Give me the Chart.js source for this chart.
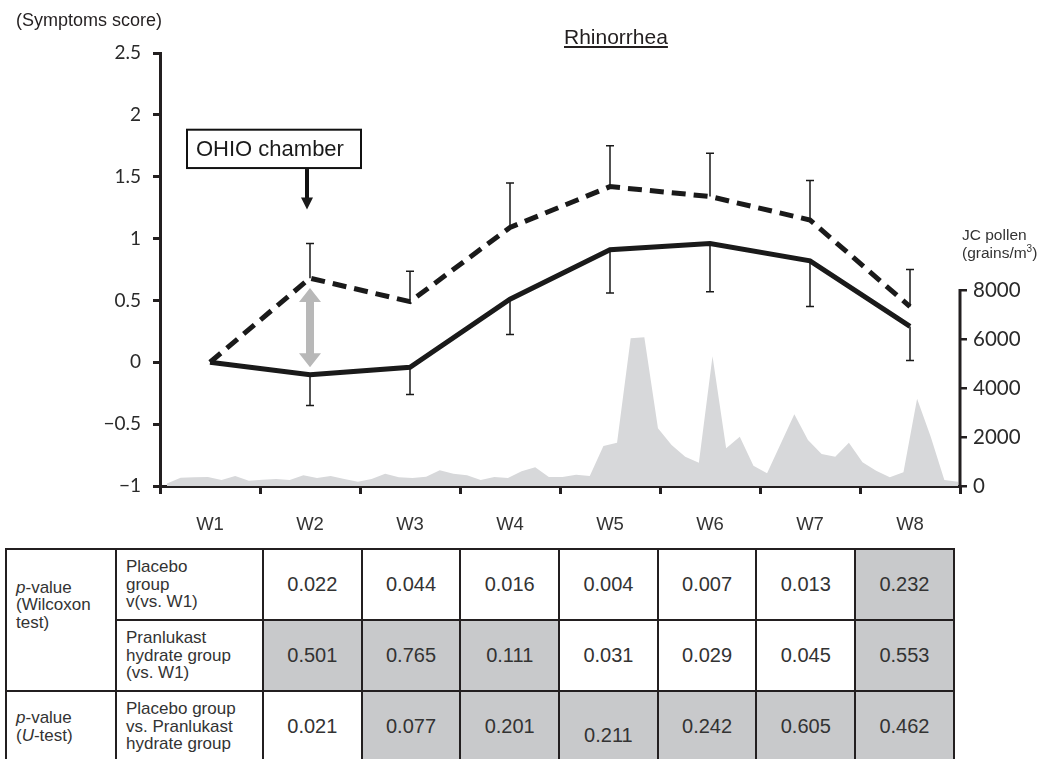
<!DOCTYPE html>
<html>
<head>
<meta charset="utf-8">
<script src="https://cdn.jsdelivr.net/npm/chart.js@4.4.1/dist/chart.umd.min.js"></script>
<style>
body{margin:0;background:#fff;width:1045px;height:759px;overflow:hidden;position:relative;font-family:"Liberation Sans",Arial,sans-serif;color:#231f20}
#wrap{position:absolute;left:0;top:0;width:1045px;height:545px}
.lbl{position:absolute;white-space:nowrap}
#tbl{position:absolute;left:5px;top:548px;border-collapse:collapse;table-layout:fixed}
#tbl td{border:2px solid #231f20;padding:0 0 0 9px;font-size:17px;line-height:17.5px;color:#333}
#tbl td.v{text-align:center;font-size:20px;padding:0}
#tbl td.g{background:#c8c9cb}
#tbl tr{height:71px}
</style>
</head>
<body>
<div id="wrap"><canvas id="grafico" width="1045" height="545"></canvas></div>

<div class="lbl" style="left:16px;top:10px;font-size:18px">(Symptoms score)</div>
<div class="lbl" style="left:564px;top:25px;font-size:21px;text-decoration:underline">Rhinorrhea</div>
<div class="lbl" style="left:962px;top:226px;font-size:15.5px;line-height:18px;color:#333">JC pollen<br>(grains/m<sup style="font-size:10px;line-height:0">3</sup>)</div>

<table id="tbl">
<colgroup><col style="width:110px"><col style="width:147px"><col span="7" style="width:98.7px"></colgroup>
<tr id="r1"><td rowspan="2" style="padding-bottom:30px"><i>p</i>-value<br>(Wilcoxon<br>test)</td><td>Placebo<br>group<br>v(vs. W1)</td></tr>
<tr id="r2"><td>Pranlukast<br>hydrate group<br>(vs. W1)</td></tr>
<tr id="r3"><td><i>p</i>-value<br>(<i>U</i>-test)</td><td>Placebo group<br>vs. Pranlukast<br>hydrate group</td></tr>
</table>

<script>
// semanas
const semanas = ['W1', 'W2', 'W3', 'W4', 'W5', 'W6', 'W7', 'W8'];

// escore de sintomas (média) e barras de erro
const placebo = [0, 0.68, 0.49, 1.09, 1.42, 1.34, 1.15, 0.45];
const placeboErro = [0, 0.28, 0.245, 0.36, 0.33, 0.35, 0.32, 0.30];      // p/ cima
const pranlukast = [0, -0.10, -0.04, 0.51, 0.91, 0.96, 0.82, 0.29];
const pranlukastErro = [0, 0.25, 0.22, 0.285, 0.35, 0.39, 0.37, 0.275];  // p/ baixo

// pólen JC diário (grains/m3)
const polen = [100, 340, 360, 370, 245, 410, 215, 260, 285, 245,
    435, 325, 410, 290, 175, 285, 500, 355, 325, 380,
    640, 500, 435, 245, 370, 325, 600, 765, 370, 370,
    460, 410, 1630, 1770, 6030, 6070, 2355, 1670, 1195, 950,
    5300, 1540, 2010, 830, 520, 1720, 2925, 1875, 1305, 1195,
    1770, 965, 625, 355, 560, 3560, 2010, 245, 175];

// ticks
const ticksEscore = [-1, -0.5, 0, 0.5, 1, 1.5, 2, 2.5];
const ticksPolen = [0, 2000, 4000, 6000, 8000];

// p-values da tabela
const pPlacebo = ['0.022', '0.044', '0.016', '0.004', '0.007', '0.013', '0.232'];
const pPranlukast = ['0.501', '0.765', '0.111', '0.031', '0.029', '0.045', '0.553'];
const pUteste = ['0.021', '0.077', '0.201', '0.211', '0.242', '0.605', '0.462'];

const corEixo = '#231f20';

// monta a tabela
function preencherLinha(id, valores) {
    const tr = document.getElementById(id);
    valores.forEach(function(v) {
        const td = document.createElement('td');
        td.className = 'v' + (parseFloat(v) > 0.05 ? ' g' : '');
        td.textContent = v;
        if (v === '0.211') td.style.paddingTop = '18px';
        tr.appendChild(td);
    });
}
preencherLinha('r1', pPlacebo);
preencherLinha('r2', pPranlukast);
preencherLinha('r3', pUteste);

// barras de erro, eixo direito e anotações
const anotacoes = {
    id: 'anotacoes',
    afterDatasetsDraw(chart) {
        const ctx = chart.ctx;
        const x = chart.scales.x, y = chart.scales.y, yR = chart.scales.yR;
        ctx.save();

        // barras de erro
        ctx.strokeStyle = '#1a1a1a';
        ctx.lineWidth = 1.5;
        function barra(px, y0, y1) {
            ctx.beginPath();
            ctx.moveTo(px, y0); ctx.lineTo(px, y1);
            ctx.moveTo(px - 4, y1); ctx.lineTo(px + 4, y1);
            ctx.stroke();
        }
        semanas.forEach(function(s, i) {
            const px = x.getPixelForValue(i);
            if (placeboErro[i] > 0) barra(px, y.getPixelForValue(placebo[i]), y.getPixelForValue(placebo[i] + placeboErro[i]));
            if (pranlukastErro[i] > 0) barra(px, y.getPixelForValue(pranlukast[i]), y.getPixelForValue(pranlukast[i] - pranlukastErro[i]));
        });

        // linha do eixo do pólen (só até 8000)
        ctx.strokeStyle = corEixo;
        ctx.lineWidth = 3;
        ctx.beginPath();
        ctx.moveTo(yR.left, yR.getPixelForValue(0) + 1.5);
        ctx.lineTo(yR.left, yR.getPixelForValue(ticksPolen[ticksPolen.length - 1]) - 1);
        ctx.stroke();

        // caixa OHIO chamber
        const pW2 = x.getPixelForValue(1);
        const topo = y.getPixelForValue(1.88), base = y.getPixelForValue(1.57);
        ctx.lineWidth = 2;
        ctx.strokeStyle = '#111';
        ctx.fillStyle = '#fff';
        ctx.fillRect(pW2 - 123, topo, 174, base - topo);
        ctx.strokeRect(pW2 - 123, topo, 174, base - topo);
        ctx.fillStyle = '#1a1a1a';
        ctx.font = '22px "Liberation Sans", Arial, sans-serif';
        ctx.textAlign = 'left';
        ctx.textBaseline = 'middle';
        ctx.fillText('OHIO chamber', pW2 - 114, (topo + base) / 2 + 1);

        // seta preta
        const ponta = y.getPixelForValue(1.235);
        ctx.lineWidth = 4;
        ctx.beginPath();
        ctx.moveTo(pW2 - 3, base + 1);
        ctx.lineTo(pW2 - 3, ponta - 10);
        ctx.stroke();
        ctx.beginPath();
        ctx.moveTo(pW2 - 9, ponta - 12);
        ctx.lineTo(pW2 + 3, ponta - 12);
        ctx.lineTo(pW2 - 3, ponta);
        ctx.closePath();
        ctx.fill();

        // seta dupla cinza
        const a = y.getPixelForValue(placebo[1] - 0.08), b = y.getPixelForValue(pranlukast[1] + 0.06);
        ctx.fillStyle = '#b8b8b8';
        ctx.beginPath();
        ctx.moveTo(pW2, a);
        ctx.lineTo(pW2 + 11, a + 14);
        ctx.lineTo(pW2 + 4, a + 14);
        ctx.lineTo(pW2 + 4, b - 14);
        ctx.lineTo(pW2 + 11, b - 14);
        ctx.lineTo(pW2, b);
        ctx.lineTo(pW2 - 11, b - 14);
        ctx.lineTo(pW2 - 4, b - 14);
        ctx.lineTo(pW2 - 4, a + 14);
        ctx.lineTo(pW2 - 11, a + 14);
        ctx.closePath();
        ctx.fill();

        ctx.restore();
    }
};

function plotarGrafico() {
    var ctx = document.getElementById('grafico').getContext('2d');
    new Chart(ctx, {
        type: 'line',
        data: {
            labels: semanas,
            datasets: [{
                label: 'Placebo',
                data: placebo,
                borderColor: '#1a1a1a',
                borderWidth: 5,
                borderDash: [14, 8],
                borderJoinStyle: 'miter',
                pointRadius: 0,
                fill: false,
                tension: 0,
                xAxisID: 'x',
                yAxisID: 'y',
                order: 1
            }, {
                label: 'Pranlukast',
                data: pranlukast,
                borderColor: '#1a1a1a',
                borderWidth: 5,
                borderJoinStyle: 'miter',
                pointRadius: 0,
                fill: false,
                tension: 0,
                xAxisID: 'x',
                yAxisID: 'y',
                order: 2
            }, {
                label: 'JC pollen',
                type: 'line',
                data: polen.map(function(v, i) { return { x: i, y: v }; }),
                backgroundColor: '#d7d8da',
                borderWidth: 0,
                borderColor: 'rgba(0,0,0,0)',
                pointRadius: 0,
                fill: 'origin',
                tension: 0,
                xAxisID: 'xp',
                yAxisID: 'yR',
                order: 3
            }]
        },
        options: {
            responsive: false,
            animation: false,
            devicePixelRatio: 1,
            layout: { padding: { top: 53, left: 0, right: 0, bottom: 0 } },
            plugins: { legend: { display: false }, tooltip: { enabled: false } },
            scales: {
                x: {
                    type: 'category',
                    offset: true,
                    afterFit: function(s) { s.height = 59; },
                    grid: { offset: true, drawOnChartArea: false, tickLength: 8, lineWidth: 3, color: corEixo },
                    border: { display: true, width: 3, color: corEixo },
                    ticks: { color: '#333', padding: 20, font: { family: 'Liberation Sans', size: 18.5 } }
                },
                xp: {
                    type: 'linear',
                    display: false,
                    min: -0.513,
                    max: 58.147
                },
                y: {
                    position: 'left',
                    min: ticksEscore[0],
                    max: ticksEscore[ticksEscore.length - 1],
                    afterFit: function(s) { s.width = 160; },
                    afterBuildTicks: function(s) { s.ticks = ticksEscore.map(function(v) { return { value: v }; }); },
                    grid: { drawOnChartArea: false, tickLength: 7, lineWidth: 3, color: corEixo },
                    border: { display: true, width: 3, color: corEixo },
                    ticks: {
                        color: '#2a2a2a',
                        padding: 12,
                        font: { family: 'Lato', size: 19 },
                        callback: function(v) { return v < 0 ? '\u2212' + Math.abs(v) : String(v); }
                    }
                },
                yR: {
                    position: 'right',
                    min: 0,
                    max: 17674,
                    afterFit: function(s) { s.width = 85; },
                    afterBuildTicks: function(s) { s.ticks = ticksPolen.map(function(v) { return { value: v }; }); },
                    grid: { drawOnChartArea: false, tickLength: 7, lineWidth: 2.5, color: corEixo },
                    border: { display: false },
                    ticks: {
                        color: '#2a2a2a',
                        padding: 6,
                        font: { family: 'Lato', size: 20.5 },
                        callback: function(v) { return String(v); }
                    }
                }
            }
        },
        plugins: [anotacoes]
    });
}

plotarGrafico();
</script>
</body>
</html>
